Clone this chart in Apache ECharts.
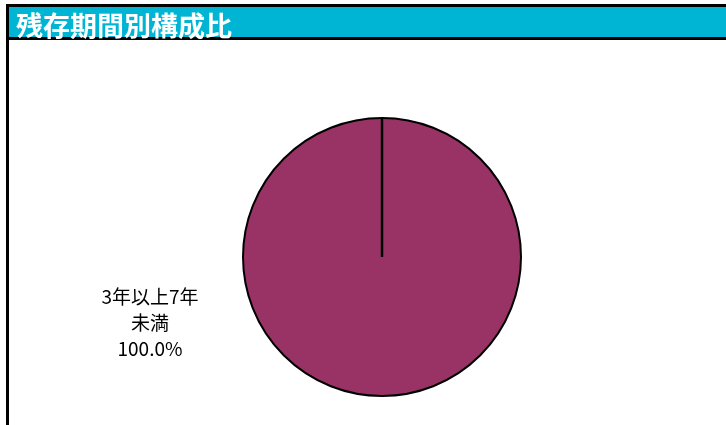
<!DOCTYPE html>
<html lang="ja">
<head>
    <meta charset="UTF-8">
    <title>残存期間別構成比</title>
    <script src="https://cdn.jsdelivr.net/npm/echarts@6/dist/echarts.min.js"></script>
    <style>
        html, body { margin: 0; padding: 0; background: #fff; }
        #chart { width: 726px; height: 425px; }
    </style>
</head>
<body>
    <div id="chart"></div>
    <script>
        var chartTitle = '残存期間別構成比';
        var categories = ['3年以上7年\n未満'];
        var shares = [100.0];

        var pieCenter = [382, 257];
        var pieRadius = 139;

        var pieData = [];
        for (var i = 0; i < categories.length; i++) {
            pieData.push({ name: categories[i], value: shares[i] });
        }

        var chart = echarts.init(document.getElementById('chart'), null, { renderer: 'canvas' });
        chart.setOption({
            animation: false,
            graphic: [
                // header band
                { type: 'rect', shape: { x: 6, y: 4, width: 730, height: 36 }, style: { fill: '#000' }, z: 0 },
                { type: 'rect', shape: { x: 9, y: 7, width: 730, height: 30 }, style: { fill: '#00B5D3' }, z: 1 },
                // left frame line
                { type: 'rect', shape: { x: 6, y: 40, width: 3, height: 400 }, style: { fill: '#000' }, z: 1 },
                // seam of the single full slice (Excel draws the start edge)
                {
                    type: 'line',
                    shape: { x1: pieCenter[0], y1: pieCenter[1], x2: pieCenter[0], y2: pieCenter[1] - pieRadius },
                    style: { stroke: '#000', lineWidth: 2.5 },
                    z: 10
                }
            ],
            title: {
                text: chartTitle,
                left: 11,
                top: 6,
                textStyle: {
                    color: '#fff',
                    fontSize: 27,
                    fontWeight: 'bold',
                    fontFamily: 'Noto Sans CJK JP',
                    lineHeight: 30
                }
            },
            series: [{
                type: 'pie',
                center: pieCenter,
                radius: pieRadius,
                startAngle: 90,
                clockwise: true,
                silent: true,
                data: pieData,
                itemStyle: {
                    color: '#993366',
                    borderColor: '#000',
                    borderWidth: 2
                },
                label: {
                    show: true,
                    position: 'center',
                    offset: [-232, 66],
                    color: '#000',
                    fontSize: 19,
                    lineHeight: 26,
                    fontFamily: 'Noto Sans CJK JP',
                    align: 'center',
                    formatter: function (p) {
                        return p.name + '\n' + p.value.toFixed(1) + '%';
                    }
                },
                labelLine: { show: false }
            }]
        });
    </script>
</body>
</html>
